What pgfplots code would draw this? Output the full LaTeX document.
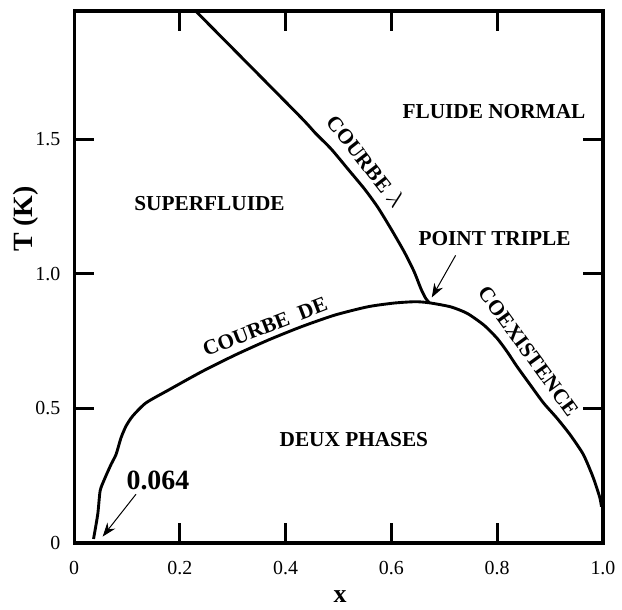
\documentclass[border=0pt]{standalone}
\usepackage{pgfplots}
\pgfplotsset{compat=1.18}
\usepackage{fontspec}
\setmainfont{Liberation Serif}
\usetikzlibrary{arrows.meta}
\tikzset{lbl/.style={font=\fontsize{10.7}{12}\selectfont\bfseries, inner sep=1pt}}
\begin{document}
\begin{tikzpicture}
\begin{axis}[
 name=ax,
 width=265.75pt, height=267.35pt, scale only axis,
 xmin=0, xmax=1, ymin=0, ymax=1.976,
 xtick={0,0.2,0.4,0.6,0.8,1}, xticklabels={0,0.2,0.4,0.6,0.8,1.0},
 ytick={0,0.5,1,1.5}, yticklabels={0,0.5,1.0,1.5},
 tick align=inside, major tick length=10pt,
 tick style={line width=1.5pt, black},
 axis line style={line width=1.6pt},
 tick label style={font=\fontsize{10}{12}\selectfont},
 xticklabel style={yshift=-5.5pt},
 yticklabel style={xshift=-3.4pt},
 xlabel={x}, ylabel={T (K)},
 xlabel style={font=\fontsize{13}{15}\selectfont\bfseries, at={(axis description cs:0.503,-0.1015)}, anchor=center},
 ylabel style={font=\fontsize{14}{16}\selectfont\bfseries, at={(axis description cs:-0.0907,0.609)}, anchor=center},
 clip=false,
]
\addplot[line width=1.45pt, smooth, tension=0.4] coordinates {
(0.0367,0.0148) (0.0447,0.107) (0.0492,0.1936) (0.0573,0.2365) (0.0699,0.292)
(0.0793,0.3289) (0.0887,0.3906) (0.0981,0.4338) (0.1105,0.4708) (0.1357,0.520)
(0.1795,0.569) (0.2421,0.637) (0.3049,0.6984) (0.3675,0.7539) (0.4301,0.8034)
(0.4929,0.8463) (0.5555,0.8773) (0.605,0.891) (0.645,0.896) (0.6714,0.892)
(0.712,0.877) (0.7434,0.8526) (0.7748,0.8093) (0.7998,0.7602) (0.8186,0.711)
(0.8374,0.6556) (0.8624,0.5876) (0.8876,0.520) (0.9126,0.4645) (0.9376,0.4028)
(0.9628,0.3289) (0.9816,0.2428) (0.994,0.1689) (0.9972,0.1345)
};
\addplot[line width=1.45pt, smooth, tension=0.4] coordinates {
(0.2297,1.976) (0.4239,1.5905) (0.4553,1.524) (0.4865,1.4623) (0.5179,1.3884)
(0.5492,1.3145) (0.5742,1.2469) (0.5992,1.1667) (0.6244,1.0806) (0.6432,1.0066)
(0.6556,0.945) (0.665,0.908) (0.6714,0.893)
};
\node[lbl] at (axis cs:0.256,1.259) {SUPERFLUIDE};
\node[lbl] at (axis cs:0.794,1.604) {FLUIDE NORMAL};
\node[lbl] at (axis cs:0.795,1.132) {POINT TRIPLE};
\node[lbl] at (axis cs:0.529,0.384) {DEUX PHASES};
\node[lbl, font=\fontsize{14}{16}\selectfont\bfseries] at (axis cs:0.1585,0.2306) {0.064};
\node[lbl, rotate=-52] at (axis cs:0.552,1.419) {COURBE {\fontsize{12}{13}\selectfont$\lambda$}};
\node[lbl, rotate=21] at (axis cs:0.361,0.803) {COURBE\ \ DE};
\node[lbl, rotate=-54] at (axis cs:0.859,0.711) {COEXISTENCE};
\draw[line width=0.5pt, -{Stealth[length=7pt,width=5pt]}] (axis cs:0.7214,1.068) -- (axis cs:0.6763,0.9117);
\draw[line width=0.5pt, -{Stealth[length=7pt,width=5pt]}] (axis cs:0.117,0.181) -- (axis cs:0.054,0.0237);
\end{axis}
\path ([xshift=-37.25pt,yshift=-31.15pt]ax.south west) rectangle ([xshift=8pt,yshift=5.5pt]ax.north east);
\end{tikzpicture}
\end{document}
